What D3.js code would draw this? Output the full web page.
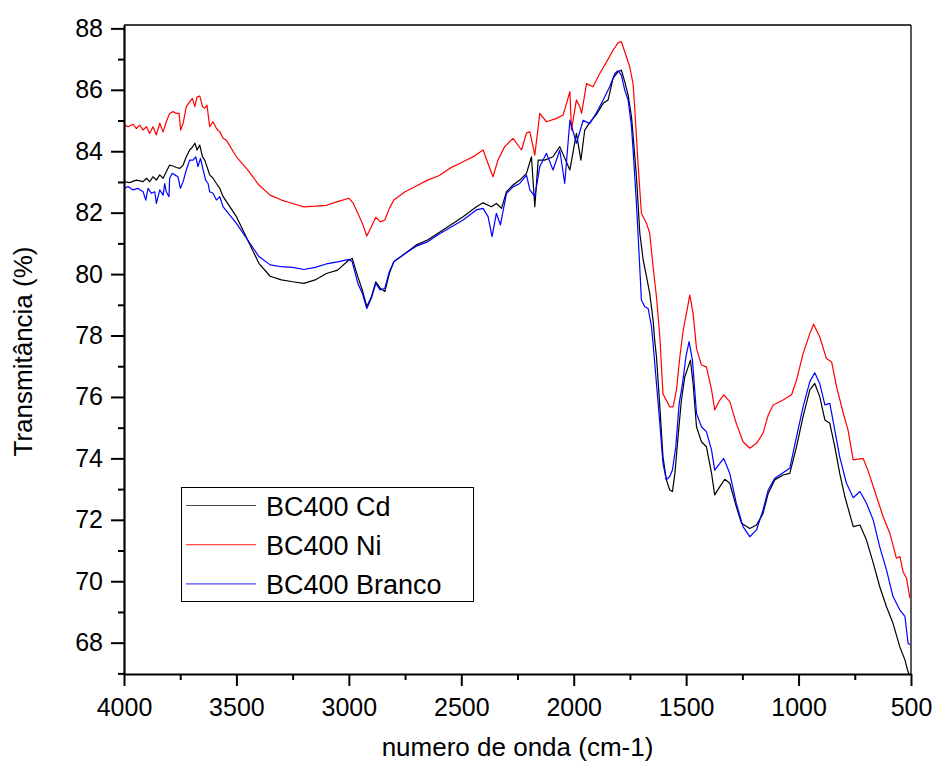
<!DOCTYPE html>
<html>
<head>
<meta charset="utf-8">
<script src="https://cdn.jsdelivr.net/npm/d3@7"></script>
<style>
body { margin: 0; background: #fff; }
text { font-family: Arial, "Liberation Sans", sans-serif; fill: #000; }
</style>
</head>
<body>
<svg id="chart" width="934" height="766"></svg>
<script>
// values: [numero de onda, transmitancia]
var cd = [[4000,83.01],[3975,82.98],[3945,83.06],[3915,83.01],[3900,83.12],[3886,83.01],[3871,83.17],[3856,83.06],[3841,83.23],[3826,83.12],[3812,83.33],[3797,83.55],[3782,83.52],[3767,83.47],[3752,83.44],[3737,83.55],[3723,83.82],[3708,84.04],[3696,84.13],[3685,84.26],[3675,84.04],[3663,84.2],[3651,83.82],[3641,83.71],[3631,83.5],[3619,83.23],[3604,83.12],[3589,82.95],[3574,82.79],[3559,82.52],[3500,81.87],[3450,81.11],[3400,80.35],[3350,79.93],[3300,79.81],[3250,79.75],[3200,79.7],[3150,79.81],[3100,80.02],[3050,80.13],[3000,80.46],[2985,80.51],[2960,79.91],[2940,79.48],[2920,78.94],[2900,79.26],[2880,79.75],[2860,79.54],[2840,79.43],[2820,80.02],[2800,80.4],[2750,80.67],[2700,80.95],[2650,81.11],[2600,81.35],[2492,81.87],[2433,82.19],[2403,82.32],[2366,82.19],[2344,82.3],[2321,82.14],[2299,82.68],[2270,82.9],[2240,83.06],[2210,83.28],[2188,83.82],[2173,82.19],[2158,83.71],[2129,83.71],[2092,83.82],[2062,84.15],[2017,83.39],[1988,84.58],[1968,83.71],[1951,84.69],[1929,84.93],[1899,85.2],[1869,85.56],[1847,85.67],[1825,86.37],[1803,86.59],[1788,86.64],[1773,86.26],[1758,85.83],[1743,85.12],[1733,84.26],[1721,83.17],[1706,81.33],[1691,80.46],[1676,79.91],[1662,79.37],[1647,78.5],[1640,77.85],[1632,77.31],[1617,75.68],[1603,74.05],[1588,73.3],[1573,72.97],[1561,72.92],[1550,73.51],[1536,74.71],[1521,75.9],[1506,76.66],[1491,76.98],[1481,77.2],[1469,76.44],[1454,75.03],[1432,74.54],[1410,74.38],[1387,73.51],[1373,72.81],[1350,73.08],[1328,73.32],[1306,73.19],[1277,72.43],[1254,71.89],[1217,71.72],[1187,71.83],[1158,72.21],[1135,72.86],[1106,73.3],[1069,73.46],[1039,73.51],[1009,74.38],[980,75.36],[950,76.23],[928,76.44],[906,76.01],[883,75.25],[861,75.14],[839,74.38],[817,73.51],[794,72.75],[757,71.78],[727,71.83],[698,71.34],[668,70.6],[639,69.82],[609,69.17],[580,68.63],[550,67.87],[527,67.44],[515,67.1],[505,66.9]];

var ni = [[4000,84.85],[3982,84.8],[3960,84.88],[3945,84.74],[3930,84.85],[3915,84.69],[3900,84.8],[3886,84.58],[3871,84.8],[3856,84.53],[3841,84.91],[3826,84.63],[3812,84.96],[3797,85.23],[3782,85.29],[3767,85.23],[3755,85.23],[3748,84.69],[3737,84.91],[3723,85.45],[3708,85.61],[3696,85.72],[3685,85.45],[3675,85.77],[3663,85.8],[3651,85.45],[3641,85.4],[3631,85.5],[3619,84.8],[3604,84.96],[3589,84.74],[3574,84.63],[3559,84.42],[3545,84.36],[3500,83.82],[3450,83.39],[3400,82.9],[3350,82.57],[3300,82.41],[3250,82.3],[3200,82.19],[3150,82.21],[3100,82.24],[3050,82.36],[3000,82.47],[2980,82.3],[2960,81.98],[2940,81.65],[2920,81.24],[2900,81.54],[2880,81.85],[2860,81.7],[2840,81.76],[2820,82.14],[2800,82.41],[2750,82.68],[2700,82.87],[2650,83.06],[2600,83.2],[2550,83.45],[2492,83.66],[2440,83.85],[2403,84.04],[2381,83.6],[2359,83.17],[2337,83.71],[2307,84.15],[2270,84.42],[2232,84.04],[2210,84.6],[2195,84.63],[2173,83.87],[2151,85.23],[2121,84.96],[2077,85.07],[2047,85.18],[2017,85.94],[2010,84.69],[1988,85.67],[1973,85.45],[1965,85.23],[1943,86.2],[1914,86.1],[1884,86.53],[1854,86.91],[1825,87.29],[1803,87.53],[1788,87.57],[1773,87.24],[1751,86.75],[1736,86.2],[1729,85.45],[1714,83.6],[1699,81.98],[1676,81.65],[1662,81.33],[1647,80.24],[1632,79.26],[1617,77.96],[1603,76.1],[1573,75.68],[1558,75.68],[1543,76.23],[1528,77.31],[1513,78.18],[1496,78.83],[1484,79.32],[1469,78.72],[1454,77.58],[1432,77.04],[1410,76.98],[1387,76.23],[1373,75.58],[1350,75.9],[1333,76.07],[1306,75.85],[1277,75.14],[1247,74.54],[1217,74.33],[1187,74.49],[1158,74.82],[1135,75.41],[1113,75.74],[1069,75.9],[1031,76.07],[1009,76.55],[980,77.41],[950,78.06],[933,78.37],[906,77.96],[876,77.25],[853,77.14],[831,76.33],[801,75.47],[780,74.92],[757,73.95],[713,74.0],[691,73.6],[653,72.75],[624,72.1],[594,71.56],[565,70.75],[549,70.8],[535,70.3],[520,70.1],[505,69.45]];

var branco = [[4000,82.79],[3982,82.85],[3960,82.74],[3938,82.79],[3915,82.68],[3903,82.41],[3893,82.79],[3878,82.63],[3863,82.68],[3856,82.3],[3841,82.74],[3826,82.57],[3819,82.95],[3812,82.68],[3800,82.52],[3797,83.12],[3785,83.28],[3774,83.23],[3760,83.17],[3749,82.79],[3737,83.01],[3723,83.39],[3708,83.71],[3693,83.71],[3681,83.82],[3671,83.5],[3660,83.77],[3648,83.39],[3637,83.06],[3626,82.95],[3619,82.68],[3604,82.63],[3589,82.41],[3574,82.52],[3559,82.19],[3500,81.65],[3450,81.11],[3400,80.57],[3350,80.3],[3300,80.24],[3250,80.22],[3200,80.15],[3150,80.22],[3100,80.33],[3050,80.4],[3000,80.48],[2985,80.4],[2960,79.7],[2940,79.37],[2920,78.88],[2900,79.21],[2880,79.7],[2860,79.48],[2840,79.54],[2820,80.08],[2800,80.4],[2750,80.67],[2700,80.91],[2650,81.05],[2600,81.3],[2492,81.76],[2433,82.09],[2403,82.14],[2381,81.87],[2363,81.22],[2344,81.98],[2326,81.6],[2299,82.63],[2270,82.84],[2240,82.95],[2210,83.22],[2195,82.74],[2173,82.52],[2151,83.5],[2121,83.93],[2092,83.39],[2062,84.04],[2040,82.95],[2017,85.01],[1988,84.26],[1958,85.01],[1929,84.9],[1899,85.25],[1869,85.67],[1840,86.1],[1817,86.53],[1803,86.62],[1788,86.48],[1773,85.99],[1758,85.67],[1743,84.8],[1733,83.71],[1721,82.3],[1711,80.89],[1699,79.16],[1684,78.94],[1669,78.88],[1654,78.29],[1647,77.74],[1632,76.44],[1617,75.14],[1603,73.84],[1588,73.3],[1573,73.41],[1561,73.62],[1546,74.38],[1531,75.79],[1516,76.44],[1501,77.31],[1487,77.8],[1472,77.2],[1454,75.47],[1432,75.03],[1410,74.87],[1387,74.27],[1373,73.62],[1350,73.84],[1333,74.0],[1306,73.51],[1277,72.54],[1247,71.78],[1217,71.45],[1187,71.67],[1158,72.32],[1135,72.97],[1106,73.35],[1069,73.53],[1039,73.68],[1009,74.71],[980,75.68],[950,76.5],[928,76.79],[906,76.44],[883,75.74],[861,75.79],[839,74.92],[817,74.05],[787,73.19],[757,72.72],[727,72.92],[698,72.54],[668,71.99],[639,71.12],[609,70.37],[580,69.5],[550,69.07],[527,68.86],[513,67.98],[505,67.93]];

var seriesNames = ["BC400 Cd", "BC400 Ni", "BC400 Branco"];
var seriesColors = ["#000000", "#ff0000", "#0000ff"];
var xTicks = [4000, 3500, 3000, 2500, 2000, 1500, 1000, 500];
var yTicks = [68, 70, 72, 74, 76, 78, 80, 82, 84, 86, 88];

(function() {
var pLeft = 124, pRight = 911, pTop = 25, pBottom = 674;

var svg = d3.select("#chart");

var x = d3.scaleLinear().domain([4000, 500]).range([pLeft, pRight]);
var y = d3.scaleLinear().domain([66.98, 88.11]).range([pBottom, pTop]);

svg.append("clipPath").attr("id", "plotclip")
    .append("rect")
    .attr("x", pLeft).attr("y", pTop)
    .attr("width", pRight - pLeft).attr("height", pBottom - pTop);

// frame on top and right
svg.append("line").attr("x1", pLeft).attr("x2", pRight).attr("y1", pTop).attr("y2", pTop)
    .attr("stroke", "#000").attr("stroke-width", 1.3);
svg.append("line").attr("x1", pRight).attr("x2", pRight).attr("y1", pTop).attr("y2", pBottom)
    .attr("stroke", "#000").attr("stroke-width", 1.3);

var line = d3.line()
    .x(function(d) { return x(d[0]); })
    .y(function(d) { return y(d[1]); });

var all = [cd, ni, branco];
svg.append("g").attr("clip-path", "url(#plotclip)")
    .selectAll("path")
    .data(all)
    .enter().append("path")
    .attr("d", line)
    .attr("fill", "none")
    .attr("stroke", function(d, i) { return seriesColors[i]; })
    .attr("stroke-width", 1.2)
    .attr("stroke-linejoin", "round");

// minor ticks
var xMinor = d3.range(3750, 500, -500);
var yMinor = d3.range(67, 88, 2);

svg.append("g")
    .attr("transform", "translate(0," + pBottom + ")")
    .call(d3.axisBottom(x).tickValues(xMinor).tickSize(6).tickFormat(""))
    .call(function(g) { g.select(".domain").remove(); })
    .selectAll("line").attr("stroke-width", 2);

svg.append("g")
    .attr("transform", "translate(" + pLeft + ",0)")
    .call(d3.axisLeft(y).tickValues(yMinor).tickSize(6).tickFormat(""))
    .call(function(g) { g.select(".domain").remove(); })
    .selectAll("line").attr("stroke-width", 2);

var xAxis = svg.append("g")
    .attr("transform", "translate(0," + pBottom + ")")
    .call(d3.axisBottom(x).tickValues(xTicks).tickSize(12).tickSizeOuter(0).tickPadding(12).tickFormat(d3.format("d")));

var yAxis = svg.append("g")
    .attr("transform", "translate(" + pLeft + ",0)")
    .call(d3.axisLeft(y).tickValues(yTicks).tickSize(13).tickSizeOuter(0).tickPadding(8).tickFormat(d3.format("d")));

[xAxis, yAxis].forEach(function(g) {
    g.select(".domain").attr("stroke-width", 2.2);
    g.selectAll(".tick line").attr("stroke-width", 2);
    g.selectAll("text").attr("font-size", 25)
        .style("font-family", "Arial, 'Liberation Sans', sans-serif");
});

// axis titles
svg.append("text")
    .attr("x", (pLeft + pRight) / 2).attr("y", 756)
    .attr("text-anchor", "middle")
    .attr("font-size", 26)
    .text("numero de onda (cm-1)");

svg.append("text")
    .attr("transform", "translate(32," + ((pTop + pBottom) / 2 + 2) + ") rotate(-90)")
    .attr("text-anchor", "middle")
    .attr("font-size", 26)
    .text("Transmitância (%)");

// legend
var legend = svg.append("g");
legend.append("rect")
    .attr("x", 181.5).attr("y", 487.5)
    .attr("width", 292).attr("height", 114)
    .attr("fill", "#fff").attr("stroke", "#000").attr("stroke-width", 1);

var rows = legend.selectAll("g.row")
    .data(seriesNames)
    .enter().append("g")
    .attr("class", "row")
    .attr("transform", function(d, i) { return "translate(0," + (505.5 + i * 39.2) + ")"; });

rows.append("line")
    .attr("x1", 186).attr("x2", 256)
    .attr("stroke", function(d, i) { return seriesColors[i]; })
    .attr("stroke-opacity", 0.7)
    .attr("stroke-width", 1.2);

rows.append("text")
    .attr("x", 266).attr("y", 10)
    .attr("font-size", 27)
    .text(function(d) { return d; });
})();
</script>
</body>
</html>
